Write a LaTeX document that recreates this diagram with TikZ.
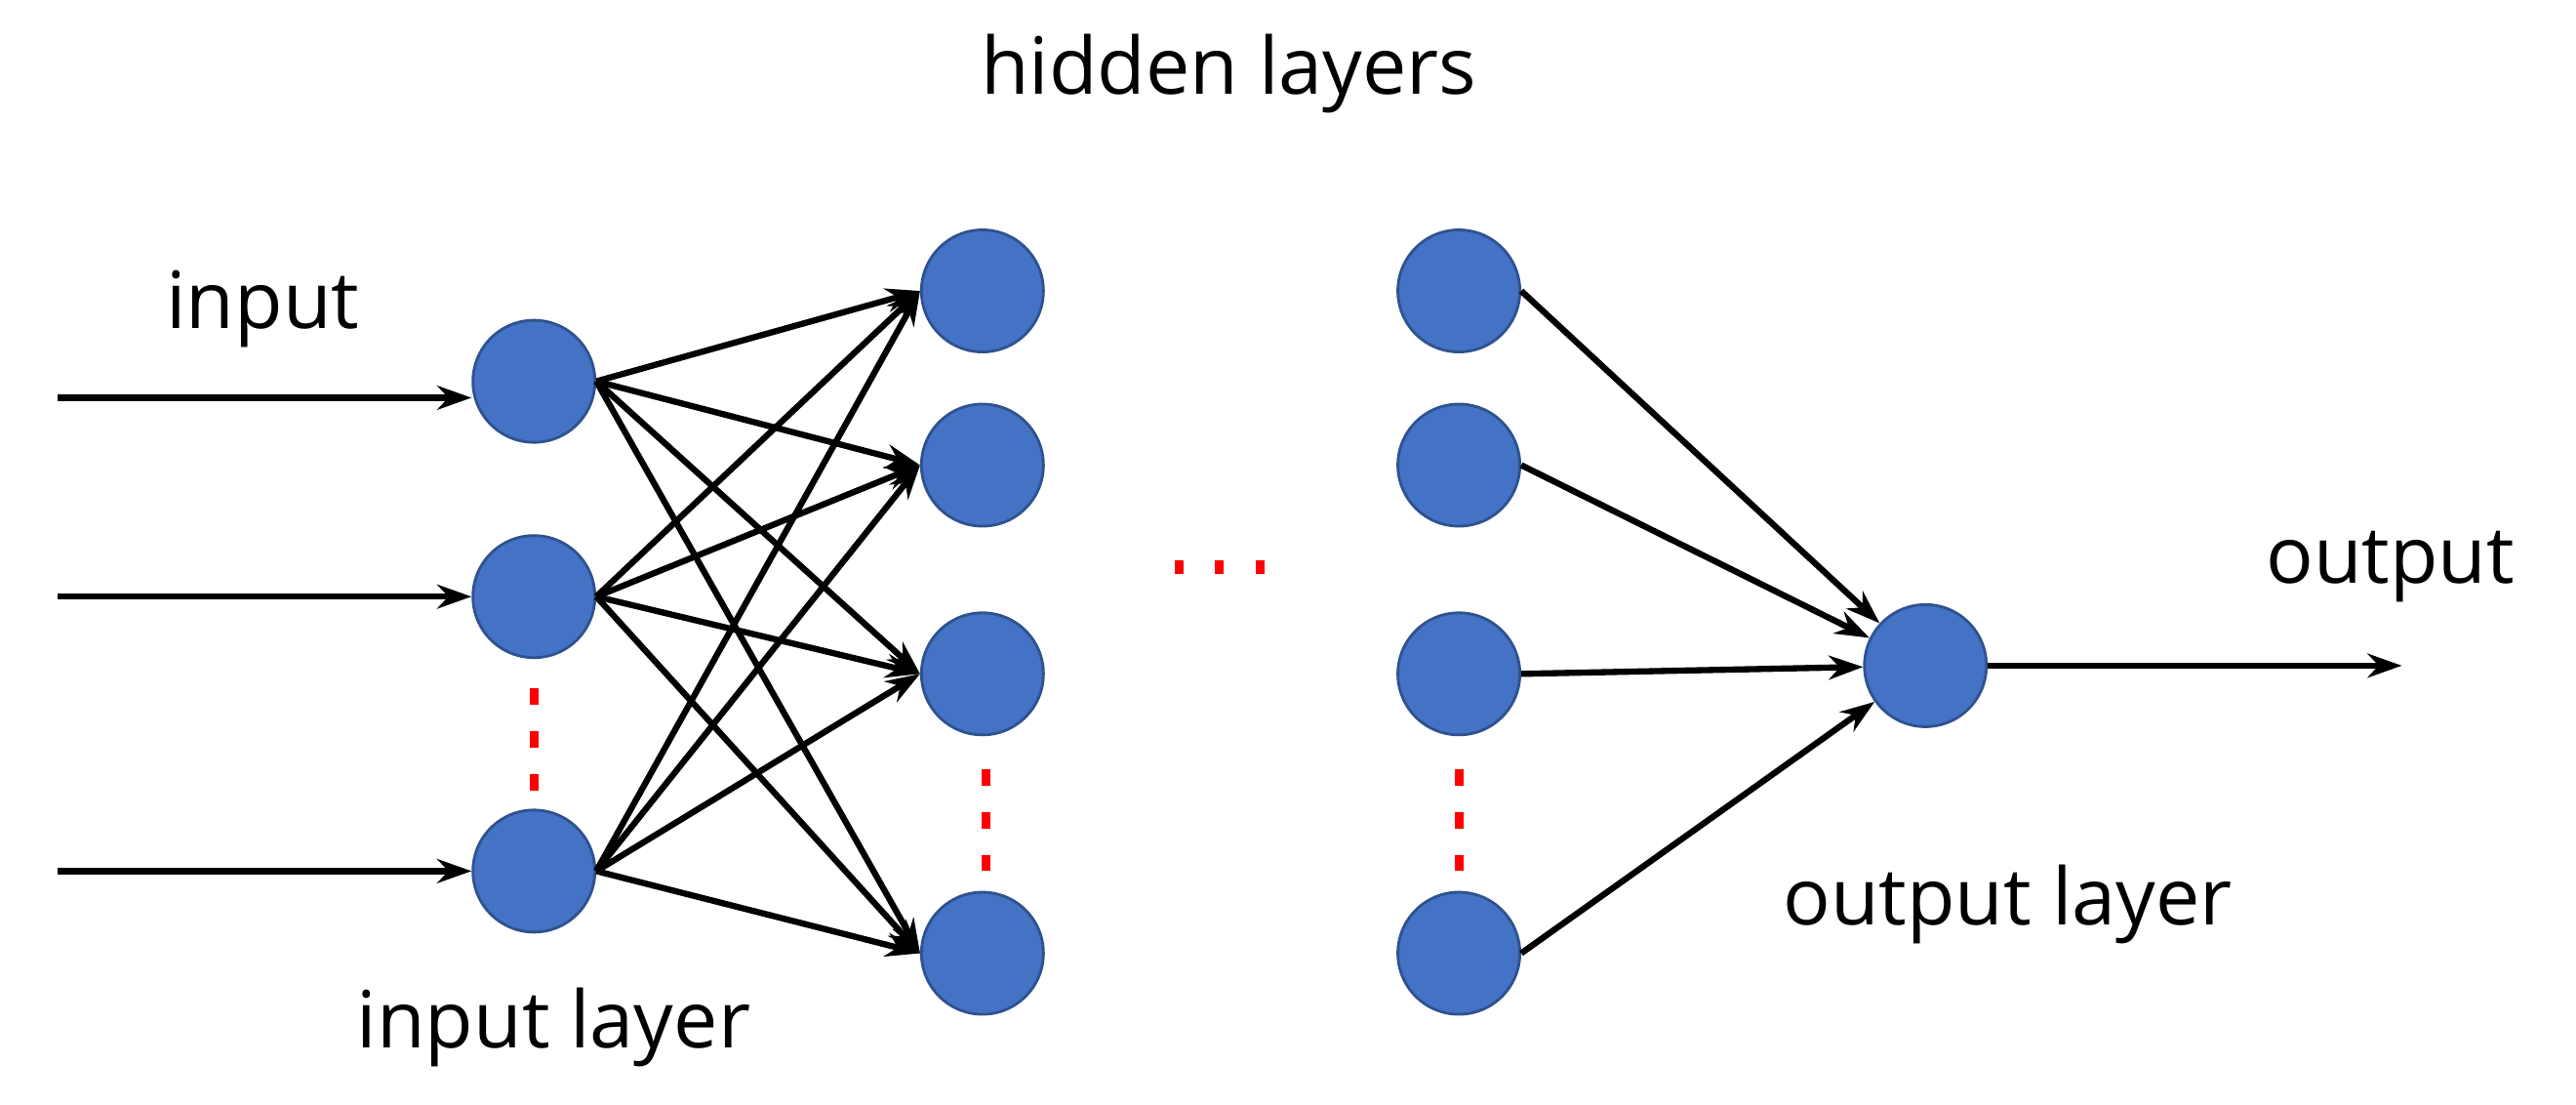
\documentclass[tikz,border=0pt]{standalone}
\usepackage{fontspec}
\setmainfont{Open Sans}
\usetikzlibrary{arrows.meta}
\definecolor{nb}{HTML}{4472C4}
\definecolor{nbd}{HTML}{2F528F}
\begin{document}
\begin{tikzpicture}[x=0.016837cm,y=-0.016837cm,
  neuron/.style={circle,fill=nb,draw=nbd,line width=0.8pt,minimum size=1.25cm,inner sep=0pt},
  conn/.style={-{Stealth[length=10pt,width=7pt]},line width=1.8pt},
  lbl/.style={font=\fontsize{23}{27}\selectfont},
  rdot/.style={red,line width=2.5pt}]
\useasboundingbox (0,0) rectangle (1568,672);
\node[neuron] (i1) at (325,232) {};
\node[neuron] (i2) at (325,363) {};
\node[neuron] (i3) at (325,530) {};
\foreach \n/\y in {1/177,2/283,3/410,4/580}{
  \node[neuron] (a\n) at (598,\y) {};
  \node[neuron] (b\n) at (888,\y) {};
}
\node[neuron] (o) at (1172,405) {};
\coordinate (s1) at (35,242);
\coordinate (s2) at (35,363);
\coordinate (s3) at (35,530);
\coordinate (e) at (1462,405);
\foreach \k in {1,2,3}{\draw[conn] (s\k) -- (s\k -| i\k.west);}
\foreach \k in {1,2,3}{\foreach \j in {1,2,3,4}{\draw[conn] (i\k.east) -- (a\j.west);}}
\foreach \j in {1,2,3,4}{\draw[conn] (b\j.east) -- (o);}
\draw[conn] (o) -- (e);
\foreach \y in {424,450,476}{\draw[rdot] (325,\y-5) -- (325,\y+5);}
\foreach \y in {473,499,525}{\draw[rdot] (600,\y-5) -- (600,\y+5); \draw[rdot] (888,\y-5) -- (888,\y+5);}
\foreach \x in {718,742,767}{\draw[rdot] (\x,341) -- (\x,349);}
\node[lbl] (t1) at (748,45) {hidden layers};
\node[lbl] (t2) at (160,188) {input};
\node[lbl] (t3) at (1455,345) {output};
\node[lbl] (t4) at (1222,550) {output layer};
\node[lbl] (t5) at (337,625) {input layer};
\end{tikzpicture}
\end{document}
